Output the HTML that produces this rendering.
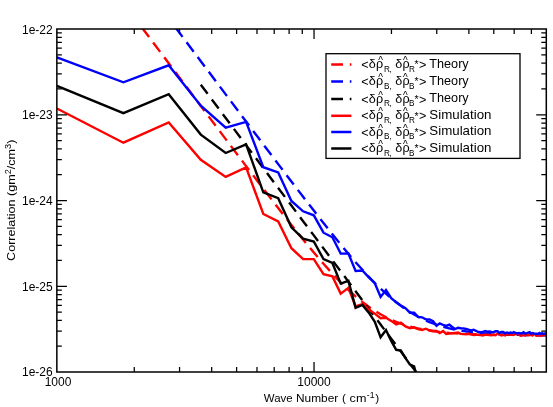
<!DOCTYPE html>
<html><head><meta charset="utf-8"><title>Correlation vs Wave Number</title>
<style>
html,body{margin:0;padding:0;background:#fff;}
svg{display:block;}
#wrap{position:relative;width:553px;height:407px;overflow:hidden;}
#wrap svg{position:absolute;left:0;top:0;}
#tl{will-change:transform;}
text{font-family:"Liberation Sans","DejaVu Sans",sans-serif;fill:#000;}
.tk{font-size:12px;}
.ax{font-size:11.8px;}
.lg{font-size:12.6px;}
.sb{font-size:8.2px;}
.sp{font-size:10.5px;}
.hat{font-size:10px;}
.wd{font-size:13px;}
.s{font-size:8.6px;}
</style></head><body>
<div id="wrap">
<svg width="553" height="407" viewBox="0 0 553 407">
<rect width="553" height="407" fill="#fff"/>
<defs><clipPath id="cp"><rect x="56.85" y="29.0" width="489.44999999999993" height="343.0"/></clipPath></defs>
<g clip-path="url(#cp)" fill="none" stroke-width="2.4" stroke-linejoin="miter" stroke-linecap="butt">
<polyline stroke="#ff0000" stroke-dasharray="11.75 6.73" points="142.0,27.7 168.7,63.2 200.8,106.0 225.7,139.1 246.1,166.1 263.3,188.7 278.2,208.1 291.4,224.9 303.1,239.6 313.8,252.5 323.5,263.8 332.4,273.7 340.7,282.4 348.4,289.9 355.6,296.4 362.4,302.0 368.8,306.8 374.8,310.8 380.6,314.3 386.0,317.3 391.2,319.8 396.2,321.9 400.9,323.7 405.5,325.2 409.9,326.5 414.1,327.6 418.1,328.5 422.1,329.3 425.8,330.0 429.5,330.6 433.1,331.2 436.5,331.6 439.8,332.0 443.1,332.3 446.2,332.6 449.3,332.9 452.2,333.1 455.1,333.3 458.0,333.5 460.7,333.6 463.4,333.8 466.1,333.9 468.6,334.0 471.1,334.1 473.6,334.2 476.0,334.3 478.3,334.4 480.6,334.4 482.9,334.5 485.1,334.5 487.3,334.6 489.4,334.6 491.5,334.7 493.5,334.7 495.6,334.7 497.5,334.8 499.5,334.8 501.4,334.8 503.3,334.9 505.1,334.9 506.9,334.9 508.7,334.9 510.5,334.9 512.2,334.9 513.9,335.0 515.6,335.0 517.2,335.0 518.9,335.0 520.5,335.0 522.1,335.0 523.6,335.0 525.2,335.0 526.7,335.1 528.2,335.1 529.7,335.1 531.1,335.1 532.6,335.1 534.0,335.1 535.4,335.1 536.8,335.1 538.2,335.1 539.5,335.1 540.8,335.1 542.2,335.1 543.5,335.1 544.8,335.1 546.0,335.1 547.3,335.1"/>
<polyline stroke="#0000ff" stroke-dasharray="11.75 6.73" points="175.5,27.5 200.8,61.2 225.7,94.4 246.1,121.5 263.3,144.4 278.2,164.1 291.4,181.5 303.1,196.8 313.8,210.6 323.5,223.1 332.4,234.3 340.7,244.5 348.4,253.8 355.6,262.2 362.4,269.8 368.8,276.7 374.8,283.0 380.6,288.6 386.0,293.7 391.2,298.2 396.2,302.3 400.9,305.9 405.5,309.1 409.9,312.0 414.1,314.5 418.1,316.7 422.1,318.7 425.8,320.5 429.5,322.1 433.1,323.4 436.5,324.7 439.8,325.7 443.1,326.7 446.2,327.6 449.3,328.3 452.2,329.0 455.1,329.6 458.0,330.1 460.7,330.6 463.4,331.0 466.1,331.4 468.6,331.8 471.1,332.1 473.6,332.4 476.0,332.6 478.3,332.9 480.6,333.1 482.9,333.3 485.1,333.4 487.3,333.6 489.4,333.7 491.5,333.9 493.5,334.0 495.6,334.1 497.5,334.2 499.5,334.3 501.4,334.4 503.3,334.5 505.1,334.5 506.9,334.6 508.7,334.7 510.5,334.7 512.2,334.8 513.9,334.8 515.6,334.9 517.2,334.9 518.9,334.9 520.5,335.0 522.1,335.0 523.6,335.0 525.2,335.1 526.7,335.1 528.2,335.1 529.7,335.2 531.1,335.2 532.6,335.2 534.0,335.2 535.4,335.2 536.8,335.3 538.2,335.3 539.5,335.3 540.8,335.3 542.2,335.3 543.5,335.3 544.8,335.3 546.0,335.3 547.3,335.4"/>
<polyline stroke="#000000" stroke-dasharray="11.4 7" points="200.8,84.7 225.7,118.0 246.1,145.1 263.3,168.1 278.2,188.0 291.4,205.5 303.1,221.2 313.8,235.4 323.5,248.4 332.4,260.3 340.7,271.3 348.4,281.6 355.6,291.2 362.4,300.3 368.8,308.8 374.8,316.8 380.6,324.5 386.0,331.7 391.2,338.7 396.2,345.3 400.9,351.6 405.5,357.7 409.9,363.6 414.1,369.2 418.1,374.6 422.1,379.8"/>
<polyline stroke="#ff0000" points="56.9,108.5 123.4,142.7 168.7,122.4 200.8,159.8 225.7,176.9 246.1,167.3 263.3,214.0 278.2,221.5 291.4,248.2 303.1,259.1 313.8,259.1 323.5,274.2 332.4,276.4 340.7,293.6 348.4,287.9 355.6,306.5 362.4,304.0 368.8,309.5 374.8,313.6 380.6,318.2 386.0,317.8 391.2,320.9 396.2,324.5 400.9,322.7 405.5,326.4 409.9,328.2 414.1,327.3 418.1,329.1 422.1,330.0 425.8,328.7 429.5,330.3 433.1,330.9 436.5,331.0 439.8,333.0 443.1,331.0 446.2,333.9 449.3,333.5 452.2,333.2 455.1,332.9 458.0,332.6 460.7,333.9 463.4,334.1 466.1,334.4 468.6,333.5 471.1,334.3 473.6,335.1 476.0,334.9 478.3,334.7 480.6,335.0 482.9,335.4 485.1,334.6 487.3,334.8 489.4,335.0 491.5,335.3 493.5,334.9 495.6,335.3 497.5,333.7 499.5,334.5 501.4,335.4 503.3,334.9 505.1,335.4 506.9,334.0 508.7,334.7 510.5,334.3 512.2,334.8 513.9,334.9 515.6,333.9 517.2,334.3 518.9,334.4 520.5,335.6 522.1,335.3 523.6,334.2 525.2,335.4 526.7,334.2 528.2,335.1 529.7,334.2 531.1,334.0 532.6,335.5 534.0,334.4 535.4,334.4 536.8,335.8 538.2,335.6 539.5,334.5 540.8,335.7 542.2,335.0 543.5,335.2 544.8,334.4 546.0,335.7"/>
<polyline stroke="#0000ff" points="56.9,57.4 123.4,82.3 168.7,65.3 200.8,105.7 225.7,127.7 246.1,121.9 263.3,167.2 278.2,172.4 291.4,201.0 303.1,211.3 313.8,215.3 323.5,232.7 332.4,237.3 340.7,253.6 348.4,253.5 355.6,271.0 362.4,270.5 368.8,277.3 374.8,283.2 380.6,297.0 386.0,290.0 391.2,298.2 396.2,302.2 400.9,305.5 405.5,308.2 409.9,312.7 414.1,312.7 418.1,316.9 422.1,317.3 425.8,319.3 429.5,319.4 433.1,321.3 436.5,325.8 439.8,323.4 443.1,325.0 446.2,325.9 449.3,324.6 452.2,327.0 455.1,329.0 458.0,327.8 460.7,328.2 463.4,328.4 466.1,329.0 468.6,329.7 471.1,330.3 473.6,329.7 476.0,330.8 478.3,332.0 480.6,332.2 482.9,332.0 485.1,331.0 487.3,331.7 489.4,331.5 491.5,332.0 493.5,332.2 495.6,331.3 497.5,331.3 499.5,332.9 501.4,331.9 503.3,331.9 505.1,333.4 506.9,332.5 508.7,333.2 510.5,332.6 512.2,333.0 513.9,332.1 515.6,333.0 517.2,333.5 518.9,332.9 520.5,333.3 522.1,333.3 523.6,332.2 525.2,333.5 526.7,333.2 528.2,332.7 529.7,332.2 531.1,333.8 532.6,333.1 534.0,333.5 535.4,333.8 536.8,333.6 538.2,333.9 539.5,333.0 540.8,333.8 542.2,333.1 543.5,334.0 544.8,333.9 546.0,332.5"/>
<polyline stroke="#000000" points="56.9,85.8 123.4,113.2 168.7,94.2 200.8,134.6 225.7,153.0 246.1,144.3 263.3,192.4 278.2,198.2 291.4,227.3 303.1,238.7 313.8,241.5 323.5,259.1 332.4,263.0 340.7,283.6 348.4,280.9 355.6,307.8 362.4,305.0 368.8,312.7 374.8,321.8 380.6,337.3 386.0,330.0 391.2,340.9 396.2,349.8 400.9,350.5 405.5,358.2 409.9,364.5 414.1,366.4 418.1,382.0"/>
</g>
<path d="M134.27 372.00v-5.00M134.27 29.00v5.00M179.56 372.00v-5.00M179.56 29.00v5.00M211.69 372.00v-5.00M211.69 29.00v5.00M236.62 372.00v-5.00M236.62 29.00v5.00M256.98 372.00v-5.00M256.98 29.00v5.00M274.20 372.00v-5.00M274.20 29.00v5.00M289.11 372.00v-5.00M289.11 29.00v5.00M302.27 372.00v-5.00M302.27 29.00v5.00M314.04 372.00v-10.10M314.04 29.00v10.10M391.46 372.00v-5.00M391.46 29.00v5.00M436.75 372.00v-5.00M436.75 29.00v5.00M468.88 372.00v-5.00M468.88 29.00v5.00M493.80 372.00v-5.00M493.80 29.00v5.00M514.17 372.00v-5.00M514.17 29.00v5.00M531.39 372.00v-5.00M531.39 29.00v5.00M56.85 346.19h5.00M546.30 346.19h-5.00M56.85 331.09h5.00M546.30 331.09h-5.00M56.85 320.37h5.00M546.30 320.37h-5.00M56.85 312.06h5.00M546.30 312.06h-5.00M56.85 305.27h5.00M546.30 305.27h-5.00M56.85 299.53h5.00M546.30 299.53h-5.00M56.85 294.56h5.00M546.30 294.56h-5.00M56.85 290.17h5.00M546.30 290.17h-5.00M56.85 286.25h10.10M546.30 286.25h-10.10M56.85 260.44h5.00M546.30 260.44h-5.00M56.85 245.34h5.00M546.30 245.34h-5.00M56.85 234.62h5.00M546.30 234.62h-5.00M56.85 226.31h5.00M546.30 226.31h-5.00M56.85 219.52h5.00M546.30 219.52h-5.00M56.85 213.78h5.00M546.30 213.78h-5.00M56.85 208.81h5.00M546.30 208.81h-5.00M56.85 204.42h5.00M546.30 204.42h-5.00M56.85 200.50h10.10M546.30 200.50h-10.10M56.85 174.69h5.00M546.30 174.69h-5.00M56.85 159.59h5.00M546.30 159.59h-5.00M56.85 148.87h5.00M546.30 148.87h-5.00M56.85 140.56h5.00M546.30 140.56h-5.00M56.85 133.77h5.00M546.30 133.77h-5.00M56.85 128.03h5.00M546.30 128.03h-5.00M56.85 123.06h5.00M546.30 123.06h-5.00M56.85 118.67h5.00M546.30 118.67h-5.00M56.85 114.75h10.10M546.30 114.75h-10.10M56.85 88.94h5.00M546.30 88.94h-5.00M56.85 73.84h5.00M546.30 73.84h-5.00M56.85 63.12h5.00M546.30 63.12h-5.00M56.85 54.81h5.00M546.30 54.81h-5.00M56.85 48.02h5.00M546.30 48.02h-5.00M56.85 42.28h5.00M546.30 42.28h-5.00M56.85 37.31h5.00M546.30 37.31h-5.00M56.85 32.92h5.00M546.30 32.92h-5.00" stroke="#000" stroke-width="1.25" fill="none"/>
<rect x="56.85" y="29.0" width="489.44999999999993" height="343.0" fill="none" stroke="#000" stroke-width="1.5"/>
</svg>
<svg id="tl" width="553" height="407" viewBox="0 0 553 407">
<g id="txt">
<text x="52.7" y="34" text-anchor="end" class="tk">1e-22</text>
<text x="52.7" y="119" text-anchor="end" class="tk">1e-23</text>
<text x="52.7" y="205" text-anchor="end" class="tk">1e-24</text>
<text x="52.7" y="291" text-anchor="end" class="tk">1e-25</text>
<text x="52.7" y="376" text-anchor="end" class="tk">1e-26</text>
<text x="58.0" y="385.6" text-anchor="middle" class="tk">1000</text>
<text x="314.0" y="385.6" text-anchor="middle" class="tk">10000</text>
<text y="402.2" class="ax"><tspan x="263.8" textLength="28.8" lengthAdjust="spacingAndGlyphs">Wave</tspan><tspan x="296.0" textLength="42.2" lengthAdjust="spacingAndGlyphs">Number</tspan><tspan x="342.0">(</tspan><tspan x="349.6" textLength="16.8" lengthAdjust="spacingAndGlyphs">cm</tspan><tspan class="s" x="366.8" y="398.2">-1</tspan><tspan x="375.2" y="402.2">)</tspan></text>
<text transform="translate(15.0 260.9) rotate(-90)" class="ax" textLength="121.3" lengthAdjust="spacingAndGlyphs">Correlation (gm<tspan class="s" dy="-3.9">2</tspan><tspan dy="3.9">/cm</tspan><tspan class="s" dy="-3.9">3</tspan><tspan dy="3.9">)</tspan></text>
</g>
<rect x="326.0" y="53.7" width="194.0" height="104.7" fill="#fff" stroke="#000" stroke-width="1.3"/>
<path d="M331.2 64.6H351.4" stroke="#ff0000" stroke-width="2.5" fill="none" stroke-dasharray="11.8 6.8"/>
<text class="lg" y="68.2"><tspan id="g0_lt" x="361.3" y="69.2">&lt;</tspan><tspan id="g0_d1" x="368.7" y="68.2">δ</tspan><tspan id="g0_r1" x="376.0">ρ</tspan><tspan id="g0_h1" class="hat" x="378.2" y="64.2">^</tspan><tspan id="g0_s1" class="sb" x="384.0" y="71.6">R</tspan><tspan id="g0_cm" class="sb" x="389.6">,</tspan><tspan id="g0_d2" x="395.2" y="68.2">δ</tspan><tspan id="g0_r2" x="402.4">ρ</tspan><tspan id="g0_h2" class="hat" x="403.1" y="64.2">^</tspan><tspan id="g0_s2" class="sb" x="408.9" y="71.6">R</tspan><tspan id="g0_st" class="sp" x="414.6" y="68.4">*</tspan><tspan id="g0_gt" x="419.0" y="69.2">&gt;</tspan><tspan id="g0_w" class="wd" x="429.3" y="67.8" textLength="39.4" lengthAdjust="spacingAndGlyphs">Theory</tspan></text>
<path d="M331.2 81.6H351.4" stroke="#0000ff" stroke-width="2.5" fill="none" stroke-dasharray="11.8 6.8"/>
<text class="lg" y="85.2"><tspan id="g1_lt" x="361.3" y="86.2">&lt;</tspan><tspan id="g1_d1" x="368.7" y="85.2">δ</tspan><tspan id="g1_r1" x="376.0">ρ</tspan><tspan id="g1_h1" class="hat" x="378.2" y="81.2">^</tspan><tspan id="g1_s1" class="sb" x="384.0" y="88.6">B</tspan><tspan id="g1_cm" class="sb" x="389.6">,</tspan><tspan id="g1_d2" x="395.2" y="85.2">δ</tspan><tspan id="g1_r2" x="402.4">ρ</tspan><tspan id="g1_h2" class="hat" x="403.1" y="81.2">^</tspan><tspan id="g1_s2" class="sb" x="408.9" y="88.6">B</tspan><tspan id="g1_st" class="sp" x="414.6" y="85.4">*</tspan><tspan id="g1_gt" x="419.0" y="86.2">&gt;</tspan><tspan id="g1_w" class="wd" x="429.3" y="84.8" textLength="39.4" lengthAdjust="spacingAndGlyphs">Theory</tspan></text>
<path d="M331.2 98.9H351.4" stroke="#000000" stroke-width="2.5" fill="none" stroke-dasharray="11.8 6.8"/>
<text class="lg" y="102.5"><tspan id="g2_lt" x="361.3" y="103.5">&lt;</tspan><tspan id="g2_d1" x="368.7" y="102.5">δ</tspan><tspan id="g2_r1" x="376.0">ρ</tspan><tspan id="g2_h1" class="hat" x="378.2" y="98.5">^</tspan><tspan id="g2_s1" class="sb" x="384.0" y="105.9">R</tspan><tspan id="g2_cm" class="sb" x="389.6">,</tspan><tspan id="g2_d2" x="395.2" y="102.5">δ</tspan><tspan id="g2_r2" x="402.4">ρ</tspan><tspan id="g2_h2" class="hat" x="403.1" y="98.5">^</tspan><tspan id="g2_s2" class="sb" x="408.9" y="105.9">B</tspan><tspan id="g2_st" class="sp" x="414.6" y="102.7">*</tspan><tspan id="g2_gt" x="419.0" y="103.5">&gt;</tspan><tspan id="g2_w" class="wd" x="429.3" y="102.1" textLength="39.4" lengthAdjust="spacingAndGlyphs">Theory</tspan></text>
<path d="M331.2 115.8H351.4" stroke="#ff0000" stroke-width="2.5" fill="none"/>
<text class="lg" y="119.4"><tspan id="g3_lt" x="361.3" y="120.4">&lt;</tspan><tspan id="g3_d1" x="368.7" y="119.4">δ</tspan><tspan id="g3_r1" x="376.0">ρ</tspan><tspan id="g3_h1" class="hat" x="378.2" y="115.4">^</tspan><tspan id="g3_s1" class="sb" x="384.0" y="122.8">R</tspan><tspan id="g3_cm" class="sb" x="389.6">,</tspan><tspan id="g3_d2" x="395.2" y="119.4">δ</tspan><tspan id="g3_r2" x="402.4">ρ</tspan><tspan id="g3_h2" class="hat" x="403.1" y="115.4">^</tspan><tspan id="g3_s2" class="sb" x="408.9" y="122.8">R</tspan><tspan id="g3_st" class="sp" x="414.6" y="119.6">*</tspan><tspan id="g3_gt" x="419.0" y="120.4">&gt;</tspan><tspan id="g3_w" class="wd" x="429.3" y="119.0" textLength="62.2" lengthAdjust="spacingAndGlyphs">Simulation</tspan></text>
<path d="M331.2 132.0H351.4" stroke="#0000ff" stroke-width="2.5" fill="none"/>
<text class="lg" y="135.6"><tspan id="g4_lt" x="361.3" y="136.6">&lt;</tspan><tspan id="g4_d1" x="368.7" y="135.6">δ</tspan><tspan id="g4_r1" x="376.0">ρ</tspan><tspan id="g4_h1" class="hat" x="378.2" y="131.6">^</tspan><tspan id="g4_s1" class="sb" x="384.0" y="139.0">B</tspan><tspan id="g4_cm" class="sb" x="389.6">,</tspan><tspan id="g4_d2" x="395.2" y="135.6">δ</tspan><tspan id="g4_r2" x="402.4">ρ</tspan><tspan id="g4_h2" class="hat" x="403.1" y="131.6">^</tspan><tspan id="g4_s2" class="sb" x="408.9" y="139.0">B</tspan><tspan id="g4_st" class="sp" x="414.6" y="135.8">*</tspan><tspan id="g4_gt" x="419.0" y="136.6">&gt;</tspan><tspan id="g4_w" class="wd" x="429.3" y="135.2" textLength="62.2" lengthAdjust="spacingAndGlyphs">Simulation</tspan></text>
<path d="M331.2 148.5H351.4" stroke="#000000" stroke-width="2.5" fill="none"/>
<text class="lg" y="152.1"><tspan id="g5_lt" x="361.3" y="153.1">&lt;</tspan><tspan id="g5_d1" x="368.7" y="152.1">δ</tspan><tspan id="g5_r1" x="376.0">ρ</tspan><tspan id="g5_h1" class="hat" x="378.2" y="148.1">^</tspan><tspan id="g5_s1" class="sb" x="384.0" y="155.5">R</tspan><tspan id="g5_cm" class="sb" x="389.6">,</tspan><tspan id="g5_d2" x="395.2" y="152.1">δ</tspan><tspan id="g5_r2" x="402.4">ρ</tspan><tspan id="g5_h2" class="hat" x="403.1" y="148.1">^</tspan><tspan id="g5_s2" class="sb" x="408.9" y="155.5">B</tspan><tspan id="g5_st" class="sp" x="414.6" y="152.3">*</tspan><tspan id="g5_gt" x="419.0" y="153.1">&gt;</tspan><tspan id="g5_w" class="wd" x="429.3" y="151.7" textLength="62.2" lengthAdjust="spacingAndGlyphs">Simulation</tspan></text>
</svg>
</div>
</body></html>
